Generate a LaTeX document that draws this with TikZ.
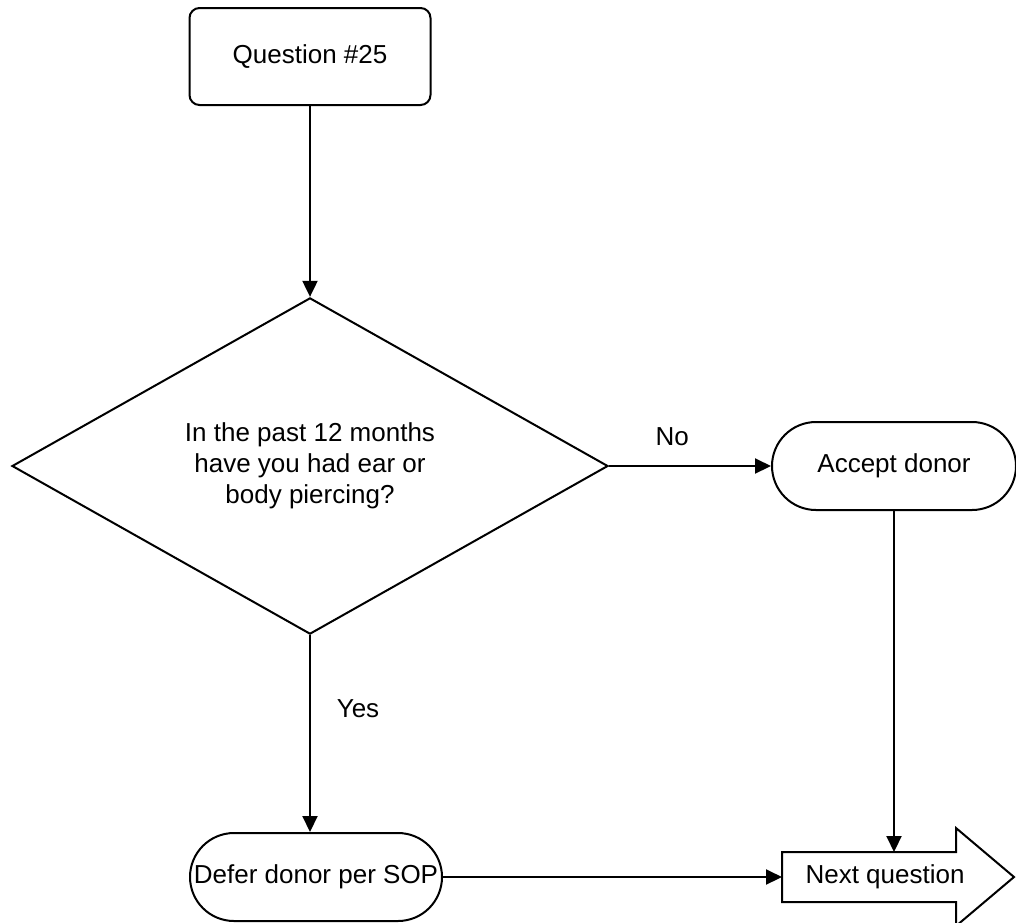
\documentclass[tikz,border=0pt]{standalone}
\usepackage{fontspec}
\setmainfont{Liberation Sans}
\usetikzlibrary{shapes.geometric,arrows.meta}

\begin{document}
\begin{tikzpicture}[x=.5pt,y=-.5pt,line width=1pt,
  font=\fontsize{13}{15.5}\selectfont,
  box/.style={draw,inner sep=0pt,align=center},
  arr/.style={-{Triangle[length=8pt,width=7.5pt]}}]
  \useasboundingbox (0,0) rectangle (1016,922);
  \node[box,rounded corners=5pt,minimum width=120.5pt,minimum height=48.5pt] (q25) at (310,56.5) {Question \#25};
  \node[box,diamond,minimum width=298pt,minimum height=167.5pt] (ask) at (310,466) {In the past 12 months\\have you had ear or\\body piercing?};
  \node[box,rounded corners=22pt,minimum width=122pt,minimum height=44pt] (accept) at (894,466) {Accept donor};
  \node[box,rounded corners=22pt,minimum width=126pt,minimum height=44pt] (defer) at (316,877) {Defer donor per SOP};
  \node[inner sep=0pt,minimum width=86pt,minimum height=24pt] (nextq) at (869,877) {};
  \draw (nextq.north west) -- (nextq.north east) -- ++(0,-24) -- ([xshift=29pt]nextq.east)
    -- ([yshift=-12pt]nextq.south east) -- (nextq.south east) -- (nextq.south west) -- cycle;
  \node (nextlbl) at (885,877) {Next question};
  \draw[arr] (q25) -- (ask);
  \draw[arr] (ask.east) -- (accept.west) node[pos=.39,yshift=14.5pt] {No};
  \draw[arr] (ask.south) -- (ask.south |- defer.north) node[pos=.375,xshift=24pt] {Yes};
  \draw[arr] (accept.south) -- (accept.south |- nextq.north);
  \draw[arr] (defer.east) -- (nextq.west);
\end{tikzpicture}
\end{document}
